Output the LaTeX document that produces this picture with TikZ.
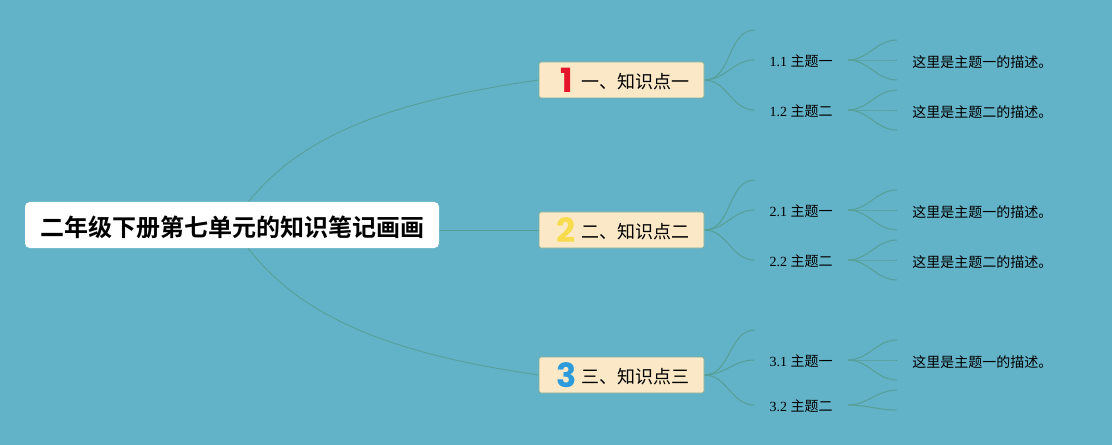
\documentclass[tikz,border=0pt]{standalone}
\usepackage{fontspec}
\setmainfont{Liberation Serif}
\newfontfamily\cjk{Noto Sans CJK SC}
\newfontfamily\cjkbold{Noto Sans CJK SC Bold}
\newfontfamily\digitfont{Poppins}
\usetikzlibrary{calc}
\usetikzlibrary{backgrounds}

\definecolor{canvasblue}{HTML}{62B2C8}
\definecolor{linkgreen}{HTML}{559F94}
\definecolor{boxcream}{HTML}{FBE8C6}
\definecolor{boxedge}{HTML}{7FAE9A}
\definecolor{digitred}{HTML}{E4142C}
\definecolor{digityellow}{HTML}{F7DC4E}
\definecolor{digitblue}{HTML}{2B9BDC}

\tikzset{
    rootbox/.style={fill=white, rounded corners=3.5pt, inner sep=0pt,
        minimum width=310.5pt, minimum height=34.5pt, text height=20pt, text depth=2.6pt,
        font=\cjkbold\fontsize{18pt}{20pt}\selectfont},
    branchbox/.style={draw=boxedge, fill=boxcream, line width=0.6pt, rounded corners=1.5pt,
        inner sep=0pt, minimum width=123.75pt, minimum height=27pt},
    branchtext/.style={anchor=west, inner sep=0pt, font=\cjk\fontsize{13.5pt}{15pt}\selectfont},
    digitmark/.style={inner sep=0pt, font=\digitfont\fontsize{25pt}{27pt}\selectfont\bfseries},
    topicbox/.style={inner sep=0pt, minimum width=69.75pt, minimum height=12pt,
        text height=11.5pt, text depth=2pt,
        font=\fontsize{10.5pt}{12pt}\selectfont},
    notetext/.style={anchor=west, inner sep=0pt, font=\cjk\fontsize{10.5pt}{12pt}\selectfont},
    rootlink/.style={draw=linkgreen, line width=0.6pt},
    twig/.style={draw=linkgreen, line width=0.7pt, out=0, in=180},
}

\begin{document}
\begin{tikzpicture}[x=0.75pt, y=-0.75pt]

        \useasboundingbox (0, 0) rectangle (1112, 445);

        % The central title
        \node[rootbox] (Root) at (232, 225) {二年级下册第七单元的知识笔记画画};

        % The three numbered boxes
        \node[branchbox] (B1) at (621.5, 80) {};
        \node[branchbox] (B2) at (621.5, 230) {};
        \node[branchbox] (B3) at (621.5, 375) {};

        \node[digitmark, text=digitred] (D1) at (567, 80) {1};
        \node[digitmark, text=digityellow] (D2) at (566.5, 230) {2};
        \node[digitmark, text=digitblue] (D3) at (567, 375) {3};

        \node[branchtext] (T1) at (581, 82) {一、知识点一};
        \node[branchtext] (T2) at (581, 232) {二、知识点二};
        \node[branchtext] (T3) at (581, 377) {三、知识点三};

        % Topics, their width runs from the incoming twig to the outgoing one
        \node[topicbox] (S11) at (801, 60) {1.1 {\cjk 主题一}};
        \node[topicbox] (S12) at (801, 110) {1.2 {\cjk 主题二}};
        \node[topicbox] (S21) at (801, 210) {2.1 {\cjk 主题一}};
        \node[topicbox] (S22) at (801, 260) {2.2 {\cjk 主题二}};
        \node[topicbox] (S31) at (801, 360) {3.1 {\cjk 主题一}};
        \node[topicbox] (S32) at (801, 405) {3.2 {\cjk 主题二}};

        % Descriptions
        \node[notetext] (N11) at (912, 62) {这里是主题一的描述。};
        \node[notetext] (N12) at (912, 112) {这里是主题二的描述。};
        \node[notetext] (N21) at (912, 212) {这里是主题一的描述。};
        \node[notetext] (N22) at (912, 262) {这里是主题二的描述。};
        \node[notetext] (N31) at (912, 362) {这里是主题一的描述。};

        % Free ends of the twigs
        \coordinate (E1) at (755, 30);
        \coordinate (E2) at (755, 180);
        \coordinate (E3) at (755, 330);

        \coordinate (L11a) at (897, 40);
        \coordinate (L11b) at (897, 60);
        \coordinate (L11c) at (897, 80);
        \coordinate (L12a) at (897, 90);
        \coordinate (L12b) at (897, 110);
        \coordinate (L12c) at (897, 130);
        \coordinate (L21a) at (897, 190);
        \coordinate (L21b) at (897, 210);
        \coordinate (L21c) at (897, 230);
        \coordinate (L22a) at (897, 240);
        \coordinate (L22b) at (897, 260);
        \coordinate (L22c) at (897, 280);
        \coordinate (L31a) at (897, 340);
        \coordinate (L31b) at (897, 360);
        \coordinate (L31c) at (897, 380);
        \coordinate (L32a) at (897, 390);
        \coordinate (L32b) at (897, 410);

        \begin{pgfonlayer}{background}
            \fill[canvasblue] (0, 0) rectangle (1112, 445);

            % Title to boxes, these start under the title
            \draw[rootlink] (Root.center) .. controls +(53, -85) and +(-159, 23) .. (B1.west);
            \draw[rootlink] (Root.east |- B2.west) -- (B2.west);
            \draw[rootlink] (Root.center) .. controls +(53, 87) and +(-159, -23) .. (B3.west);

            % Boxes to topics
            \draw[twig] (B1.east) to (E1);
            \draw[twig] (B1.east) to (S11.west);
            \draw[twig] (B1.east) to (S12.west);
            \draw[twig] (B2.east) to (E2);
            \draw[twig] (B2.east) to (S21.west);
            \draw[twig] (B2.east) to (S22.west);
            \draw[twig] (B3.east) to (E3);
            \draw[twig] (B3.east) to (S31.west);
            \draw[twig] (B3.east) to (S32.west);

            % Topics to free ends
            \draw[twig] (S11.east) to (L11a);
            \draw[twig] (S11.east) to (L11b);
            \draw[twig] (S11.east) to (L11c);
            \draw[twig] (S12.east) to (L12a);
            \draw[twig] (S12.east) to (L12b);
            \draw[twig] (S12.east) to (L12c);
            \draw[twig] (S21.east) to (L21a);
            \draw[twig] (S21.east) to (L21b);
            \draw[twig] (S21.east) to (L21c);
            \draw[twig] (S22.east) to (L22a);
            \draw[twig] (S22.east) to (L22b);
            \draw[twig] (S22.east) to (L22c);
            \draw[twig] (S31.east) to (L31a);
            \draw[twig] (S31.east) to (L31b);
            \draw[twig] (S31.east) to (L31c);
            \draw[twig] (S32.east) to (L32a);
            \draw[twig] (S32.east) to (L32b);
        \end{pgfonlayer}

\end{tikzpicture}
\end{document}
